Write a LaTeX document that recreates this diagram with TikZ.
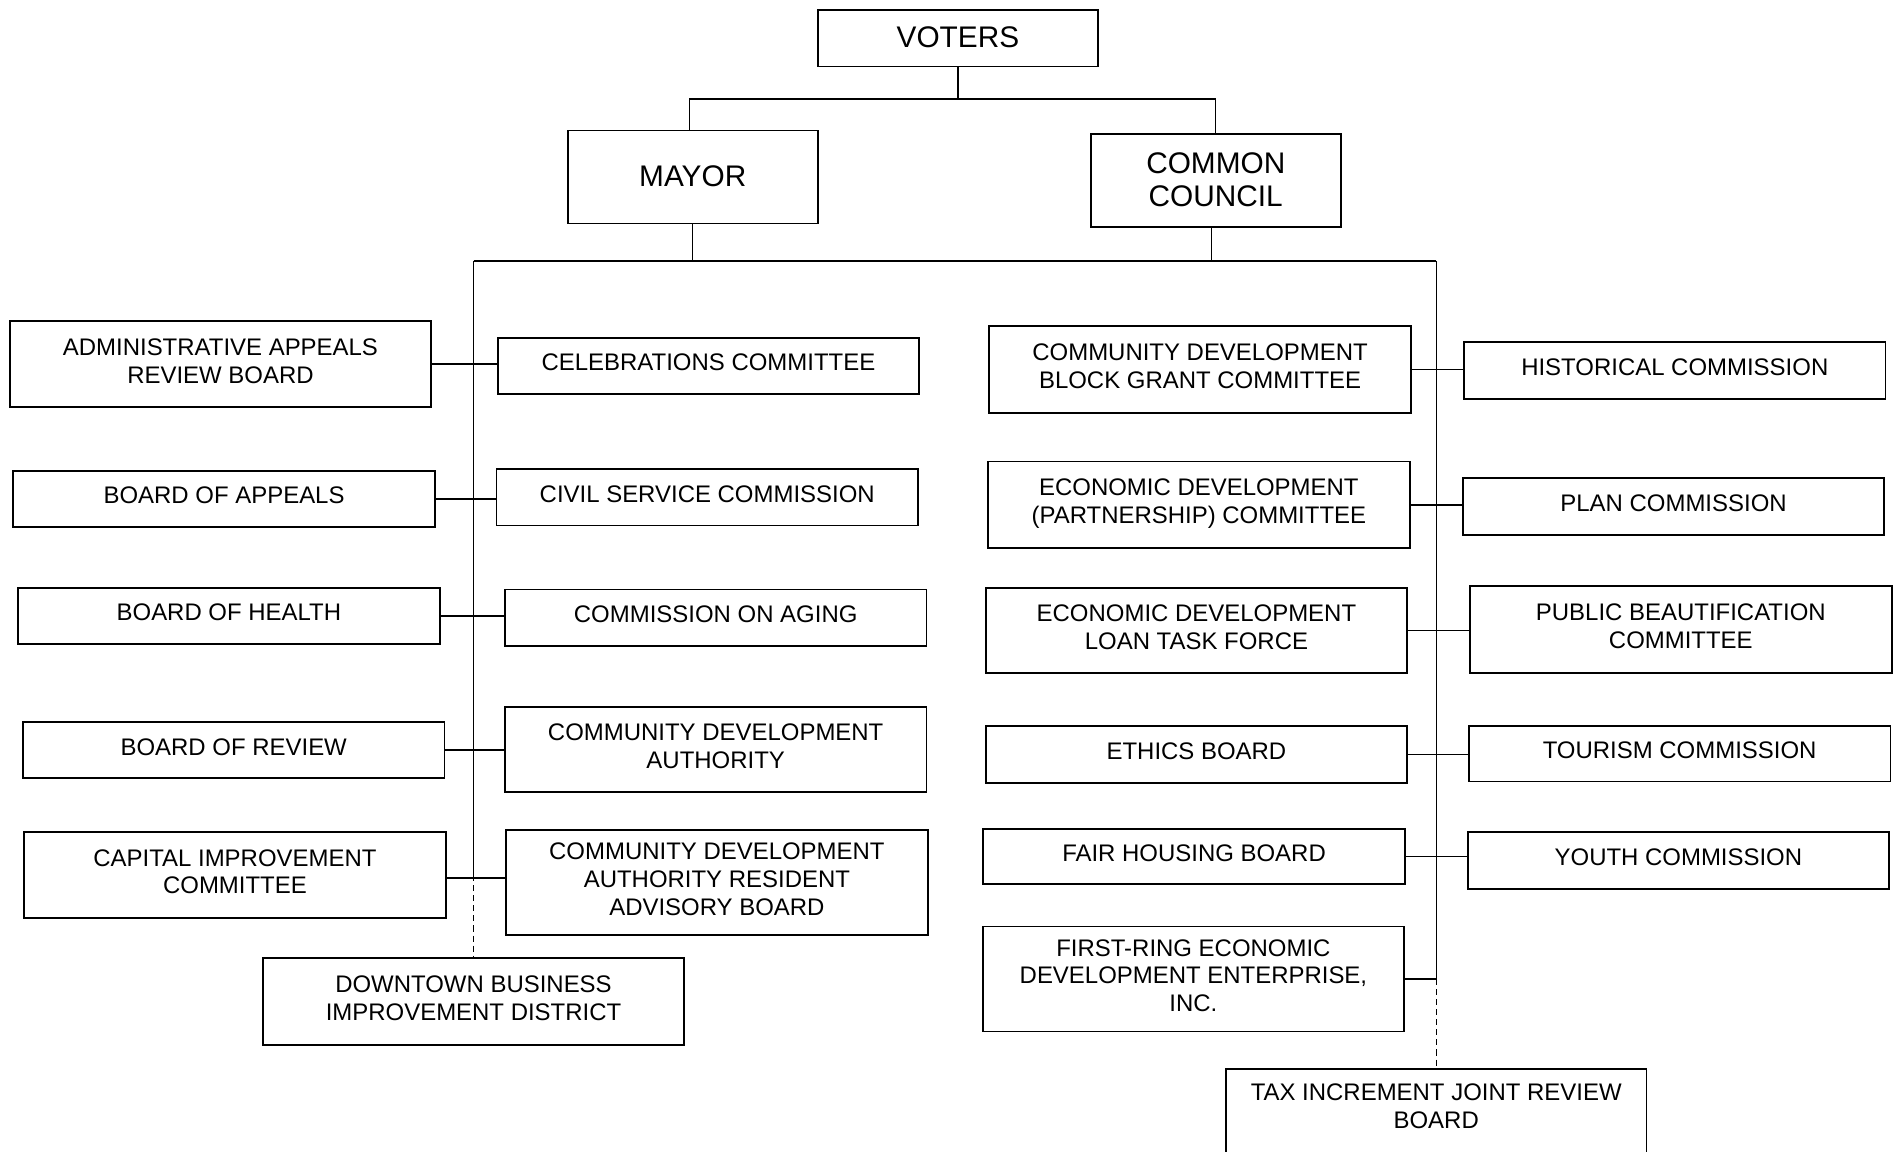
\documentclass[tikz,border=0pt]{standalone}
\usepackage{fontspec}
\setmainfont{Liberation Sans}
\tikzset{
 box/.style={draw, line width=0.9pt, align=center, inner sep=2pt, text depth=3.4pt, font=\fontsize{11.9}{13.8}\selectfont},
 bigtext/.style={font=\fontsize{14.8}{16.2}\selectfont, text depth=1.2pt},
 link/.style={line width=0.7pt},
}
\newcommand\orgbox[7][]{\node[box,#1,minimum width={(#5-#3)*0.6pt},minimum height={(#6-#4)*0.6pt}] (#2) at ({(#3+#5)/2},{(#4+#6)/2}) {#7};}
\begin{document}
\begin{tikzpicture}[x=0.6pt,y=-0.6pt]
\useasboundingbox (0,0) rectangle (1568,953);
% top
\orgbox[bigtext]{voters}{677}{8}{909}{55}{VOTERS}
\orgbox[bigtext]{mayor}{470}{108}{677}{185}{MAYOR}
\orgbox[bigtext]{council}{903}{111}{1110}{188}{COMMON\\COUNCIL}
% left column
\orgbox{aarb}{8}{266}{357}{337}{ADMINISTRATIVE APPEALS\\REVIEW BOARD}
\orgbox{boa}{11}{390}{360}{436}{BOARD OF APPEALS}
\orgbox{boh}{15}{487}{364}{533}{BOARD OF HEALTH}
\orgbox{bor}{19}{598}{368}{644}{BOARD OF REVIEW}
\orgbox{cic}{20}{689}{369}{760}{CAPITAL IMPROVEMENT\\COMMITTEE}
% middle-left column
\orgbox{cel}{412}{280}{761}{326}{CELEBRATIONS COMMITTEE}
\orgbox{csc}{411}{388}{760}{435}{CIVIL SERVICE COMMISSION}
\orgbox{coa}{418}{488}{767}{535}{COMMISSION ON AGING}
\orgbox{cda}{418}{585}{767}{656}{COMMUNITY DEVELOPMENT\\AUTHORITY}
\orgbox{cdar}{419}{687}{768}{774}{COMMUNITY DEVELOPMENT\\AUTHORITY RESIDENT\\ADVISORY BOARD}
\orgbox{dbid}{218}{793}{566}{865}{DOWNTOWN BUSINESS\\IMPROVEMENT DISTRICT}
% middle-right column
\orgbox{cdbg}{819}{270}{1168}{342}{COMMUNITY DEVELOPMENT\\BLOCK GRANT COMMITTEE}
\orgbox{edp}{818}{382}{1167}{454}{ECONOMIC DEVELOPMENT\\(PARTNERSHIP) COMMITTEE}
\orgbox{edl}{816}{487}{1165}{557}{ECONOMIC DEVELOPMENT\\LOAN TASK FORCE}
\orgbox{eth}{816}{601}{1165}{648}{ETHICS BOARD}
\orgbox{fhb}{814}{686}{1163}{732}{FAIR HOUSING BOARD}
\orgbox{fr}{814}{767}{1162}{854}{FIRST-RING ECONOMIC\\DEVELOPMENT ENTERPRISE,\\INC.}
% right column
\orgbox{hist}{1212}{283}{1561}{330}{HISTORICAL COMMISSION}
\orgbox{plan}{1211}{396}{1560}{443}{PLAN COMMISSION}
\orgbox{pbc}{1217}{485}{1566}{557}{PUBLIC BEAUTIFICATION\\COMMITTEE}
\orgbox{tour}{1216}{601}{1565}{647}{TOURISM COMMISSION}
\orgbox{youth}{1215}{689}{1564}{736}{YOUTH COMMISSION}
\node[box, anchor=north, minimum width={348*0.6pt}, inner ysep=7.5pt, text depth=60pt] (tax) at (1189,884) {TAX INCREMENT JOINT REVIEW\\BOARD};
% connectors
\coordinate (vbus) at (793,82);
\coordinate (busL) at (392,216);
\coordinate (busR) at (1189,216);
\draw[link] (voters.south) -- (vbus);
\draw[link] ([xshift=-1.5pt]mayor.north) |- (vbus) -| (council.north);
\draw[link] (mayor.south) -- (mayor.south |- busL);
\draw[link] ([xshift=-2pt]council.south) -- ([xshift=-2pt]council.south |- busL);
\draw[link] (busL) -- (busR);
\draw[link] (busL) -- (busL |- cic.east);
\draw[link, dashed, dash pattern=on 3pt off 2pt] (busL |- cic.east) -- (dbid.north);
\draw[link] (busR) -- (busR |- fr.east);
\draw[link, dashed, dash pattern=on 3pt off 2pt] (busR |- fr.east) -- (tax.north);
\draw[link] (aarb.east) -- (cel.west |- aarb.east);
\draw[link] (boa.east) -- (csc.west |- boa.east);
\draw[link] (boh.east) -- (coa.west |- boh.east);
\draw[link] (bor.east) -- (cda.west |- bor.east);
\draw[link] ([yshift=-1.5pt]cic.east) -- ([yshift=-1.5pt]cdar.west |- cic.east);
\draw[link] (cdbg.east) -- (hist.west |- cdbg.east);
\draw[link] (edp.east) -- (plan.west |- edp.east);
\draw[link] (edl.east) -- (pbc.west |- edl.east);
\draw[link] (eth.east) -- (tour.west |- eth.east);
\draw[link] (fhb.east) -- (youth.west |- fhb.east);
\draw[link] (fr.east) -- (busR |- fr.east);
\end{tikzpicture}
\end{document}
